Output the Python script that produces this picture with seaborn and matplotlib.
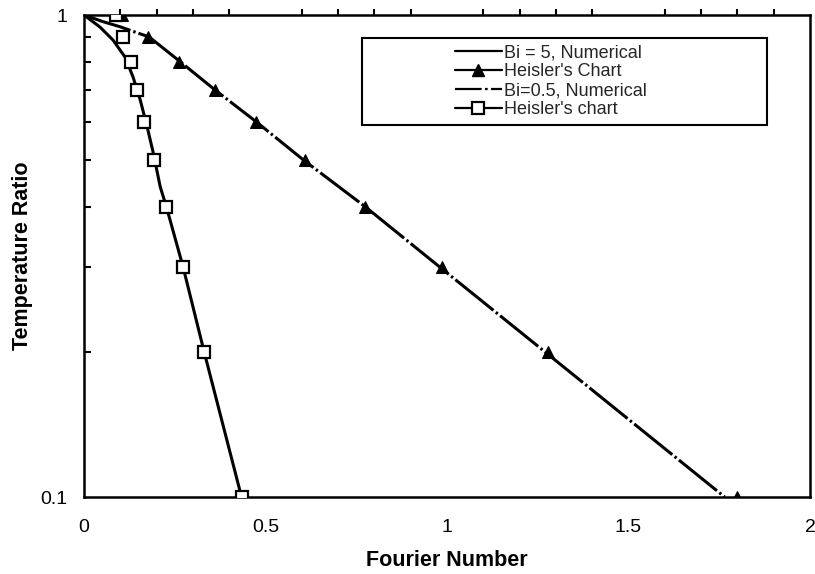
import numpy as np
import pandas as pd
import matplotlib
matplotlib.use("Agg")
import matplotlib.pyplot as plt
from matplotlib.patches import Rectangle
from matplotlib.lines import Line2D
from matplotlib.ticker import FixedLocator, NullFormatter, FixedFormatter
import seaborn as sns

# Bi = 5: numerical solution and Heisler chart readings
fo_num_bi5 = [0.0, 0.044, 0.080, 0.113, 0.135, 0.155, 0.174, 0.191, 0.210, 0.227, 0.273, 0.331, 0.434]
th_num_bi5 = [1.0, 0.944, 0.887, 0.818, 0.744, 0.666, 0.586, 0.517, 0.440, 0.40, 0.30, 0.20, 0.10]
fo_chart_bi5 = [0.088, 0.108, 0.130, 0.146, 0.166, 0.193, 0.227, 0.273, 0.331, 0.434]
th_chart_bi5 = [1.0, 0.9, 0.8, 0.7, 0.6, 0.5, 0.4, 0.3, 0.2, 0.1]

# Bi = 0.5: numerical solution and Heisler chart readings
fo_num_bi05 = [0.0, 0.05, 0.10, 0.18, 0.265, 0.36, 0.475, 0.605, 0.775, 0.98, 1.27, 1.765]
th_num_bi05 = [1.0, 0.97, 0.945, 0.90, 0.80, 0.70, 0.60, 0.50, 0.40, 0.30, 0.20, 0.10]
fo_chart_bi05 = [0.105, 0.177, 0.263, 0.362, 0.475, 0.609, 0.774, 0.985, 1.279, 1.80]
th_chart_bi05 = [1.0, 0.9, 0.8, 0.7, 0.6, 0.5, 0.4, 0.3, 0.2, 0.1]

series_labels = ["Bi = 5, Numerical", "Heisler's Chart", "Bi=0.5, Numerical", "Heisler's chart"]
x_ticks = [0, 0.5, 1, 1.5, 2]
x_tick_labels = ["0", "0.5", "1", "1.5", "2"]
y_tick_labels = ["0.1", "1"]

sns.set_theme(style="ticks")
plt.rcParams["font.family"] = ["Liberation Sans", "DejaVu Sans"]

W, H = 815, 574
fig = plt.figure(figsize=(W / 100, H / 100), dpi=100)
ax = fig.add_axes([84 / W, 1 - 497 / H, 726 / W, 482 / H])

df_num5 = pd.DataFrame({"Fo": fo_num_bi5, "theta": th_num_bi5})
df_ch5 = pd.DataFrame({"Fo": fo_chart_bi5, "theta": th_chart_bi5})
df_num05 = pd.DataFrame({"Fo": fo_num_bi05, "theta": th_num_bi05})
df_ch05 = pd.DataFrame({"Fo": fo_chart_bi05, "theta": th_chart_bi05})

lw = 2.2
dashdot = (0, (16, 1.0, 0.8, 1.0))
tri_kw = dict(marker="^", markersize=9, markeredgecolor="black", markerfacecolor="black")
sq_kw = dict(marker="s", markersize=8, markeredgecolor="black", markerfacecolor="white",
             markeredgewidth=1.6)

sns.lineplot(data=df_num5, x="Fo", y="theta", ax=ax, sort=False, estimator=None,
             color="black", lw=lw, zorder=3)
sns.lineplot(data=df_ch05, x="Fo", y="theta", ax=ax, sort=False, estimator=None,
             color="black", lw=0, zorder=4, **tri_kw)
sns.lineplot(data=df_num05, x="Fo", y="theta", ax=ax, sort=False, estimator=None,
             color="black", lw=lw, zorder=3)
sns.lineplot(data=df_ch5, x="Fo", y="theta", ax=ax, sort=False, estimator=None,
             color="black", lw=0, zorder=5, **sq_kw)

# dash-dot style for the Bi = 0.5 numerical line
ax.lines[2].set_linestyle(dashdot)

ax.set_yscale("log")
ax.set_xlim(0, 2)
ax.set_ylim(0.1, 1)

ax.yaxis.set_major_locator(FixedLocator([0.1, 1]))
ax.yaxis.set_major_formatter(FixedFormatter(y_tick_labels))
ax.yaxis.set_minor_locator(FixedLocator([0.2, 0.3, 0.4, 0.5, 0.6, 0.7, 0.8, 0.9]))
ax.yaxis.set_minor_formatter(NullFormatter())
ax.tick_params(axis="y", which="minor", direction="in", length=5, width=1.5, color="black")
ax.tick_params(axis="y", which="major", direction="in", length=0, pad=12,
               labelsize=14, labelcolor="black")

ax.set_xticks(x_ticks)
ax.set_xticklabels(x_tick_labels)
ax.xaxis.set_minor_locator(FixedLocator(np.round(np.arange(0.1, 2.0, 0.1), 2)))
ax.tick_params(axis="x", which="both", bottom=False, top=True, direction="out",
               length=4, width=1.5, color="black", labelsize=14, labelcolor="black", pad=12)
ax.tick_params(axis="x", which="major", top=False)

for sp in ax.spines.values():
    sp.set_visible(True)
    sp.set_linewidth(1.8)
    sp.set_color("black")

ax.set_xlabel("Fourier Number", fontsize=15.5, fontweight="bold", labelpad=10, color="black")
ax.set_ylabel("Temperature Ratio", fontsize=15.5, fontweight="bold", labelpad=5, color="black")

# legend frame and entries
ax.add_patch(Rectangle(((362 - 84) / 726, (497 - 125) / 482), (767 - 362) / 726, (125 - 38) / 482,
                       transform=ax.transAxes, fill=True, facecolor="white",
                       edgecolor="black", lw=1.5, zorder=6))
handles = [
    Line2D([], [], color="black", lw=1.6),
    Line2D([], [], color="black", lw=1.6, **tri_kw),
    Line2D([], [], color="black", lw=1.6, linestyle=(0, (12, 1.5, 1.2, 1.5))),
    Line2D([], [], color="black", lw=1.6, **sq_kw),
]
leg = ax.legend(handles, series_labels, loc="upper left",
                bbox_to_anchor=((455 - 84) / 726, (497 - 44) / 482),
                frameon=False, fontsize=13, labelspacing=0.12, handlelength=2.6,
                handletextpad=0.1, borderpad=0, borderaxespad=0)
leg.set_zorder(7)

fig.savefig("out.png", dpi=100)
